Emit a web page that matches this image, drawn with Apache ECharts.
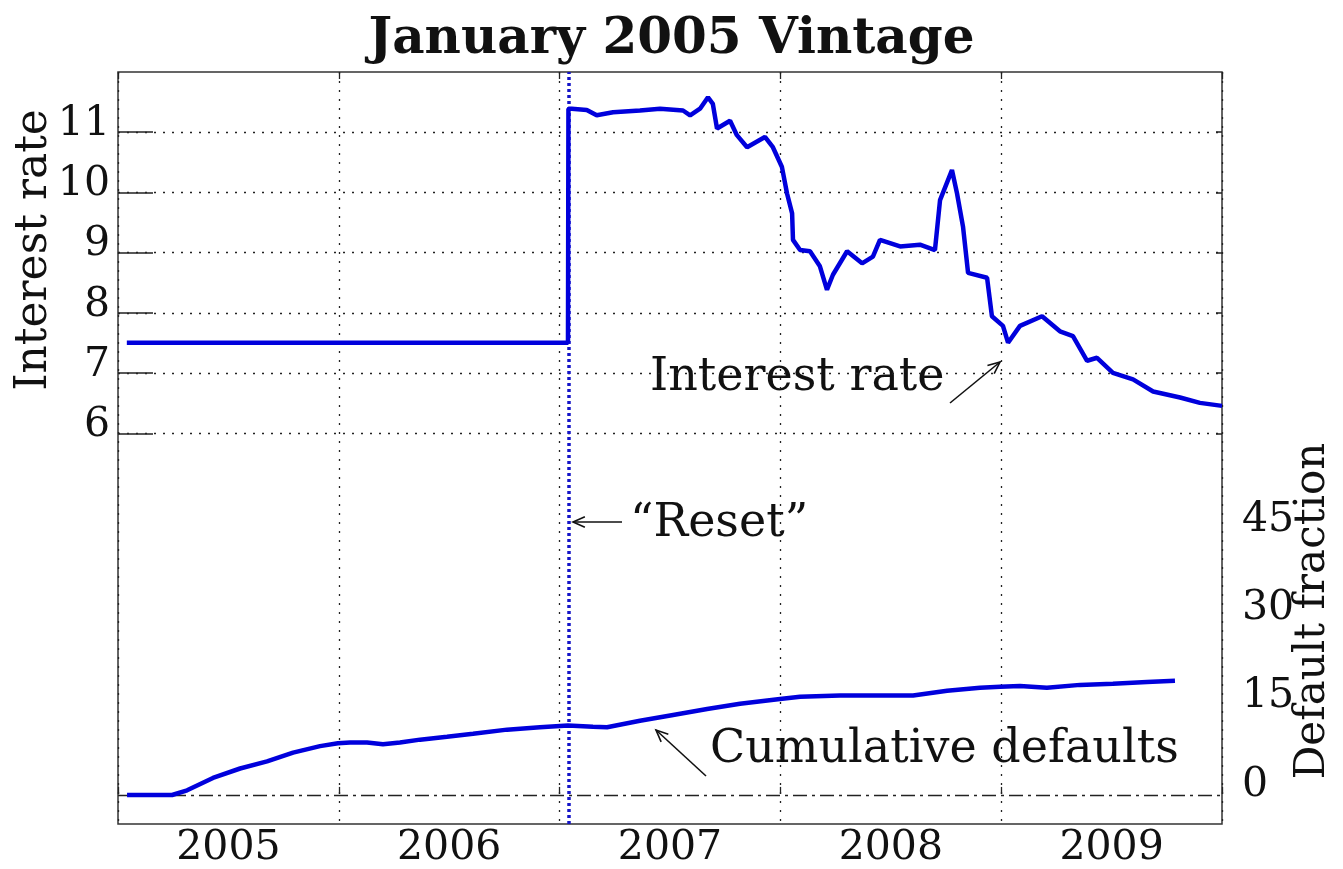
<!DOCTYPE html>
<html>
<head>
<meta charset="utf-8">
<script src="https://cdn.jsdelivr.net/npm/echarts@6/dist/echarts.min.js"></script>
<style>
  body { margin: 0; background: #fff; }
  #main { width: 1343px; height: 869px; }
</style>
</head>
<body>
<div id="main"></div>
<script>
// interest rate of the vintage, decimal years
var rateYears = [2005.04, 2007.038, 2007.04, 2007.055, 2007.123, 2007.168, 2007.242, 2007.364, 2007.455, 2007.559,
  2007.591, 2007.636, 2007.672, 2007.694, 2007.713, 2007.772, 2007.803, 2007.849, 2007.930, 2007.966,
  2008.007, 2008.030, 2008.053, 2008.057, 2008.089, 2008.134, 2008.179, 2008.211, 2008.238, 2008.302,
  2008.370, 2008.419, 2008.451, 2008.542, 2008.632, 2008.700, 2008.723, 2008.777, 2008.800, 2008.827,
  2008.850, 2008.936, 2008.958, 2009.008, 2009.031, 2009.085, 2009.185, 2009.266, 2009.325, 2009.389,
  2009.434, 2009.506, 2009.597, 2009.688, 2009.810, 2009.900, 2010.000];
var rateValues = [7.5, 7.5, 11.39, 11.39, 11.37, 11.28, 11.33, 11.36, 11.39, 11.36,
  11.28, 11.39, 11.58, 11.47, 11.06, 11.19, 10.95, 10.75, 10.92, 10.75,
  10.42, 9.98, 9.65, 9.21, 9.04, 9.02, 8.77, 8.38, 8.63, 9.02,
  8.82, 8.93, 9.21, 9.10, 9.13, 9.04, 9.87, 10.37, 9.98, 9.43,
  8.66, 8.58, 7.94, 7.78, 7.50, 7.78, 7.94, 7.69, 7.61, 7.20,
  7.25, 7.00, 6.89, 6.69, 6.59, 6.50, 6.45];

// cumulative defaults (default fraction)
var defaultYears = [2005.041, 2005.245, 2005.313, 2005.430, 2005.553, 2005.675, 2005.793, 2005.915, 2005.996, 2006.051,
  2006.128, 2006.200, 2006.277, 2006.368, 2006.490, 2006.608, 2006.762, 2006.911, 2007.038, 2007.151,
  2007.215, 2007.364, 2007.514, 2007.668, 2007.817, 2007.998, 2008.089, 2008.270, 2008.451, 2008.601,
  2008.755, 2008.904, 2008.995, 2009.085, 2009.207, 2009.357, 2009.506, 2009.660, 2009.787];
var defaultValues = [0, 0, 0.8, 2.9, 4.5, 5.7, 7.2, 8.3, 8.8, 8.9,
  8.9, 8.6, 8.9, 9.4, 9.9, 10.4, 11.1, 11.5, 11.8, 11.6,
  11.5, 12.6, 13.6, 14.6, 15.5, 16.3, 16.7, 16.9, 16.9, 16.9,
  17.7, 18.2, 18.4, 18.5, 18.2, 18.7, 18.9, 19.2, 19.4];

var resetDate = 2007.04;
var yearStart = 2005, yearEnd = 2010;
var rateTicks = [6, 11, 1];        // min, max, step
var defaultTicks = [0, 45, 15];

var FONT = 'DejaVu Serif';
var blue = '#0000dc';
var ink = '#111';

function pairs(xs, ys) {
  return xs.map(function (x, i) { return [x, ys[i]]; });
}

function arrow(x1, y1, x2, y2) {
  var a = Math.atan2(y2 - y1, x2 - x1), L = 13, w = 0.42;
  return [
    { type: 'line', shape: { x1: x1, y1: y1, x2: x2, y2: y2 }, style: { stroke: ink, lineWidth: 1.6 } },
    { type: 'polyline', shape: { points: [
        [x2 - L * Math.cos(a - w), y2 - L * Math.sin(a - w)], [x2, y2],
        [x2 - L * Math.cos(a + w), y2 - L * Math.sin(a + w)]] },
      style: { stroke: ink, lineWidth: 1.6, fill: 'none' } }
  ];
}

function label(txt, x, y, size, rot, align) {
  return {
    type: 'text', x: x, y: y, rotation: rot || 0,
    style: { text: txt, font: size + 'px "' + FONT + '"', fill: ink,
      align: align || 'center', verticalAlign: 'middle',
      textAlign: align || 'center', textVerticalAlign: 'middle' }
  };
}

var dotted = { type: [2, 7], color: '#222', width: 1.3 };

var myChart = echarts.init(document.getElementById('main'));
var option = {
  animation: false,
  backgroundColor: '#fff',
  title: {
    text: 'January 2005 Vintage',
    left: 'center',
    top: 10,
    textStyle: { fontFamily: FONT, fontWeight: 'bold', fontSize: 50, color: ink }
  },
  grid: [
    // frame
    { left: 118, right: 121, top: 72, bottom: 44, show: true, borderColor: '#333', borderWidth: 1.5 },
    // interest rate ticks 6..11
    { left: 118, right: 121, top: 132.2, bottom: 435.6 },
    // default fraction 0..45
    { left: 118, right: 121, top: 530, bottom: 74 }
  ],
  xAxis: [
    { gridIndex: 0, type: 'value', min: yearStart, max: yearEnd, interval: 1, position: 'bottom',
      axisLine: { show: false }, axisLabel: { show: false },
      axisTick: { inside: true, length: 7, lineStyle: { color: '#222', width: 1.3 } },
      splitLine: { show: true, lineStyle: dotted } },
    { gridIndex: 0, type: 'value', min: yearStart, max: yearEnd, interval: 0.5, position: 'bottom',
      axisLine: { show: false }, axisTick: { show: false }, splitLine: { show: false },
      axisLabel: {
        margin: 4, fontFamily: FONT, fontSize: 41, color: ink,
        formatter: function (v) {
          var f = v - Math.floor(v);
          return Math.abs(f - 0.5) < 1e-6 ? String(Math.floor(v)) : '';
        }
      } },
    { gridIndex: 0, type: 'value', min: yearStart, max: yearEnd, interval: 1, position: 'top',
      axisLine: { show: false }, axisLabel: { show: false }, splitLine: { show: false },
      axisTick: { inside: true, length: 7, lineStyle: { color: '#222', width: 1.3 } } },
    { gridIndex: 1, type: 'value', min: yearStart, max: yearEnd, show: false },
    { gridIndex: 2, type: 'value', min: yearStart, max: yearEnd, show: false }
  ],
  yAxis: [
    // data scale for the interest rate (0 sits on the defaults zero line)
    { gridIndex: 0, type: 'value', min: -0.5, max: 12, show: false },
    { gridIndex: 1, type: 'value', min: rateTicks[0], max: rateTicks[1], interval: rateTicks[2], position: 'left',
      axisLine: { show: false },
      axisTick: { inside: true, length: 35, lineStyle: { color: '#222', width: 1.5 } },
      axisLabel: { margin: 8, fontFamily: FONT, fontSize: 41, color: ink, verticalAlign: 'bottom', lineHeight: 16 },
      splitLine: { show: true, lineStyle: dotted } },
    { gridIndex: 1, type: 'value', min: rateTicks[0], max: rateTicks[1], interval: rateTicks[2], position: 'right',
      axisLine: { show: false }, axisLabel: { show: false }, splitLine: { show: false },
      axisTick: { inside: true, length: 6, lineStyle: { color: '#222', width: 1.5 } } },
    { gridIndex: 2, type: 'value', min: defaultTicks[0], max: defaultTicks[1], interval: defaultTicks[2], position: 'right',
      axisLine: { show: false }, axisTick: { show: false }, splitLine: { show: false },
      axisLabel: { margin: 20, fontFamily: FONT, fontSize: 41, color: ink, verticalAlign: 'bottom', lineHeight: 20 } }
  ],
  series: [
    {
      name: 'Interest rate', type: 'line', xAxisIndex: 0, yAxisIndex: 0,
      data: pairs(rateYears, rateValues), showSymbol: false, symbol: 'none',
      lineStyle: { color: blue, width: 4.5 }, z: 5,
      markLine: {
        silent: true, symbol: ['none', 'none'], label: { show: false },
        lineStyle: { color: '#1414c8', type: [3, 3], width: 3.5 },
        data: [{ xAxis: resetDate }]
      }
    },
    {
      name: 'Cumulative defaults', type: 'line', xAxisIndex: 4, yAxisIndex: 3,
      data: pairs(defaultYears, defaultValues), showSymbol: false, symbol: 'none', clip: false,
      lineStyle: { color: blue, width: 4.5 }, z: 5,
      markLine: {
        silent: true, symbol: ['none', 'none'], label: { show: false },
        lineStyle: { color: '#222', type: [14, 5, 3, 5], width: 1.3 },
        data: [{ yAxis: 0 }]
      }
    }
  ],
  graphic: [].concat(
    [label('Interest rate', 35, 250, 44, Math.PI / 2),
     label('Default fraction', 1313, 611, 42, Math.PI / 2),
     label('Interest rate', 650, 378, 46, 0, 'left'),
     label('\u201cReset\u201d', 630, 524, 46, 0, 'left'),
     label('Cumulative defaults', 710, 750, 46, 0, 'left')],
    arrow(950, 403, 1000, 362),
    arrow(622, 522, 573, 522),
    arrow(706, 776, 656, 730)
  )
};
myChart.setOption(option);
</script>
</body>
</html>
